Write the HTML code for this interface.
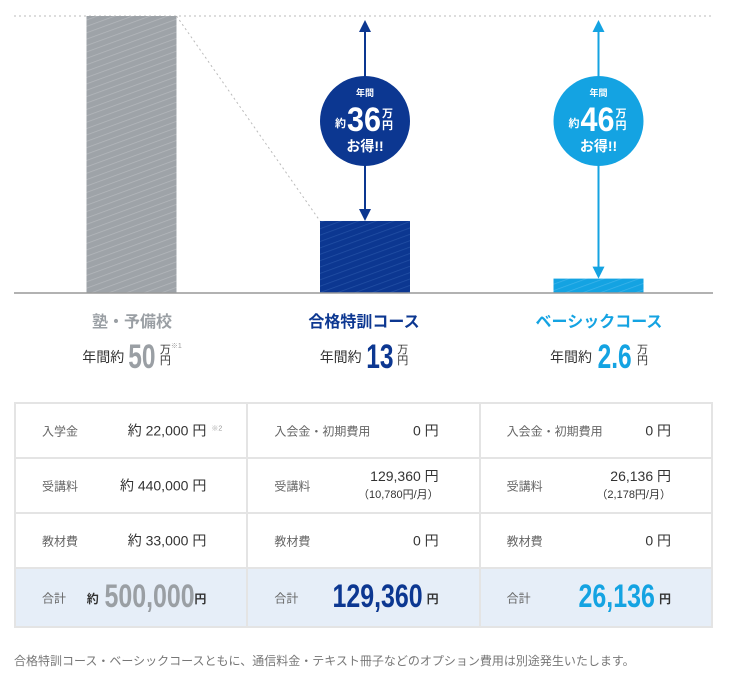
<!DOCTYPE html>
<html><head><meta charset="utf-8"><style>
body{margin:0;width:729px;height:677px;background:#fff;font-family:"Liberation Sans","Noto Sans CJK JP",sans-serif;position:relative;overflow:hidden;color:#333}
.abs{position:absolute}
.cat{position:absolute;top:308px;width:240px;text-align:center;font-size:16px;font-weight:bold}
.val{position:absolute;top:338px;width:240px;text-align:center;font-size:14px;white-space:nowrap}
.val b{display:inline-block;font-size:34px;vertical-align:-6px;transform:scaleX(0.72);margin:0 -5px}
.val .u{display:inline-block;font-size:11px;line-height:11px;vertical-align:-2px;text-align:center}
table{position:absolute;left:14px;top:402px;width:699px;border-collapse:collapse;table-layout:fixed}
td{border:2px solid #e4e4e4;height:53px;padding:0 0 0 26px;font-size:14px;position:relative}
td .l{color:#666;font-size:12px;position:absolute;left:26px;top:50%;transform:translateY(-50%)}
td .r{position:absolute;right:40px;top:50%;transform:translateY(-50%);text-align:right;line-height:17px;white-space:nowrap}
tr.tot td{background:#e6eef8;height:57px}
.big{display:inline-block;font-size:32px;font-weight:bold;transform:scaleX(0.78);transform-origin:right center;vertical-align:-4px}
</style></head><body>
<svg class="abs" style="left:0;top:0" width="729" height="300">
<defs>
<pattern id="hg" width="6" height="6" patternUnits="userSpaceOnUse" patternTransform="rotate(-20)"><rect width="6" height="6" fill="#9ea3a8"/><line x1="0" y1="0" x2="6" y2="0" stroke="#b4b8bc" stroke-width="1.5"/></pattern>
<pattern id="hn" width="6" height="6" patternUnits="userSpaceOnUse" patternTransform="rotate(-20)"><rect width="6" height="6" fill="#0c3791"/><line x1="0" y1="0" x2="6" y2="0" stroke="#2350a5" stroke-width="1.5"/></pattern>
<pattern id="hl" width="6" height="6" patternUnits="userSpaceOnUse" patternTransform="rotate(-20)"><rect width="6" height="6" fill="#14a3e2"/><line x1="0" y1="0" x2="6" y2="0" stroke="#3db4ea" stroke-width="1.5"/></pattern>
</defs>
<g id="g"></g>
</svg>
<div class="cat" style="left:12px;color:#9a9fa4">塾・予備校</div>
<div class="cat" style="left:244px;color:#0c3791">合格特訓コース</div>
<div class="cat" style="left:479px;color:#14a3e2">ベーシックコース</div>
<div class="val" style="left:12px">年間約 <b style="color:#9a9fa4">50</b> <span class="u">万<br>円</span><sup style="font-size:7px;color:#999;vertical-align:14px">※1</sup></div>
<div class="val" style="left:244px">年間約 <b style="color:#0c3791">13</b> <span class="u">万<br>円</span></div>
<div class="val" style="left:479px">年間約 <b style="color:#14a3e2">2.6</b> <span class="u">万<br>円</span></div>
<table>
<tr><td><span class="l">入学金</span><span class="r">約 22,000 円 <sup style="font-size:7px;color:#999;position:absolute;right:-16px;top:-2px">※2</sup></span></td><td><span class="l">入会金・初期費用</span><span class="r">0 円</span></td><td><span class="l">入会金・初期費用</span><span class="r">0 円</span></td></tr>
<tr><td><span class="l">受講料</span><span class="r">約 440,000 円</span></td><td><span class="l">受講料</span><span class="r">129,360 円<br><span style="font-size:11px">（10,780円/月）</span></span></td><td><span class="l">受講料</span><span class="r">26,136 円<br><span style="font-size:11px">（2,178円/月）</span></span></td></tr>
<tr><td><span class="l">教材費</span><span class="r">約 33,000 円</span></td><td><span class="l">教材費</span><span class="r">0 円</span></td><td><span class="l">教材費</span><span class="r">0 円</span></td></tr>
<tr class="tot"><td><span class="l">合計</span><span class="r"><b style="font-size:12px">約</b> <span class="big" style="color:#9a9fa4;margin-left:-24px">500,000</span><b style="font-size:12px">円</b></span></td><td><span class="l">合計</span><span class="r"><span class="big" style="color:#0c3791">129,360</span> <b style="font-size:12px">円</b></span></td><td><span class="l">合計</span><span class="r"><span class="big" style="color:#14a3e2">26,136</span> <b style="font-size:12px">円</b></span></td></tr>
</table>
<div class="abs" style="left:14px;top:652px;font-size:12px;color:#777">合格特訓コース・ベーシックコースともに、通信料金・テキスト冊子などのオプション費用は別途発生いたします。</div>
<script>
const categories=["塾・予備校","合格特訓コース","ベーシックコース"];
const values=[50,13,2.6];
const savings=[null,36,46];
const fills=["url(#hg)","url(#hn)","url(#hl)"];
const colors=["#9ea3a8","#0c3791","#14a3e2"];
const base=293, top0=16, maxV=50;
const y=v=>base-(base-top0)*v/maxV;
const xc=i=>131.5+i*233.5;
const bw=90;
const g=document.getElementById('g');
const NS='http://www.w3.org/2000/svg';
function mk(t,a){const e=document.createElementNS(NS,t);for(const k in a)e.setAttribute(k,a[k]);g.appendChild(e);return e;}
let l=mk('line',{x1:14,y1:top0,x2:713,y2:top0,stroke:'#bbb','stroke-dasharray':'2,3'});


let d=mk('line',{x1:xc(0)+bw/2,y1:y(values[0]),x2:xc(1)-bw/2,y2:y(values[1]),stroke:'#bbb','stroke-dasharray':'2,3'});


values.forEach((v,i)=>{
  const r=mk('rect',{x:xc(i)-bw/2,y:y(v),width:bw,height:base-y(v),fill:fills[i]});
  
  
  if(savings[i]!=null){
    const x=xc(i),c=colors[i],t=y(maxV)+4,b=y(v);
    const a=mk('line',{x1:x,y1:t+10,x2:x,y2:b-10,stroke:c,'stroke-width':2});
    
    
    mk('polygon',{points:`${x},${t} ${x-6},${t+12} ${x+6},${t+12}`,fill:c});
    mk('polygon',{points:`${x},${b} ${x-6},${b-12} ${x+6},${b-12}`,fill:c});
    const cy=121;
    const ci=mk('circle',{cx:x,cy:cy,r:45,fill:c});
    
    
    const t1=mk('text',{x:x,y:cy-25,'text-anchor':'middle',fill:'#fff','font-size':9,'font-weight':'bold'});t1.textContent='年間';
    const t2=mk('text',{x:x-30,y:cy+6,fill:'#fff','font-size':11,'font-weight':'bold'});t2.textContent='約';
    const t3=mk('text',{x:x-18,y:cy+10,fill:'#fff','font-size':34,'font-weight':'bold',textLength:34,lengthAdjust:'spacingAndGlyphs'});t3.textContent=savings[i];
    const t4=mk('text',{x:x+17,y:cy-4,fill:'#fff','font-size':11,'font-weight':'bold'});t4.textContent='万';
    const t5=mk('text',{x:x+17,y:cy+8,fill:'#fff','font-size':11,'font-weight':'bold'});t5.textContent='円';
    const t6=mk('text',{x:x,y:cy+30,'text-anchor':'middle',fill:'#fff','font-size':14,'font-weight':'bold'});t6.textContent='お得!!';
  }
});
let bl=mk('line',{x1:14,y1:base,x2:713,y2:base,stroke:'#999','stroke-width':1.5});


</script>
</body></html>
